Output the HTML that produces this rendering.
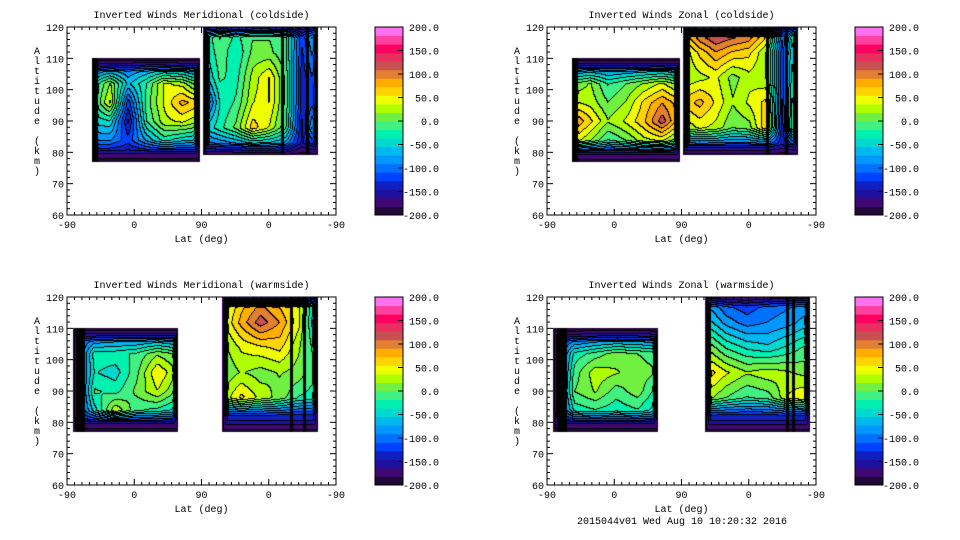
<!DOCTYPE html>
<html><head><meta charset="utf-8"><style>
html,body{margin:0;padding:0;background:#fff;width:960px;height:540px;overflow:hidden}
#wrap{position:relative;width:960px;height:540px}
canvas,svg{position:absolute;left:0;top:0}
text{font-family:"Liberation Mono",monospace;font-size:10px;fill:#000}
</style></head><body>
<div id="wrap">
<canvas id="cv" width="960" height="540"></canvas>
<svg id="sv" width="960" height="540"></svg>
</div>
<script>
// ---- data ----
const levelColors=['#200838','#400870','#2010a0','#1020c0','#0040ff','#0070ff','#0098ff','#00b8f0','#00d8d0','#00f0b0','#40f080','#70f040','#b0ff00','#f0ff00','#ffd400','#ffae00','#e08030','#c85050','#e83060','#ff0060','#ff40a0','#ff70f0'];
const cbTicks=[200,150,100,50,0,-50,-100,-150,-200];
const xTickLabels=['-90','0','90','0','-90'];
const yTicks=[60,70,80,90,100,110,120];
const altsA=[108,102,96,90,84,80];
const altsB=[120,112,104,96,88,82];
const titles=['Inverted Winds Meridional (coldside)','Inverted Winds Zonal (coldside)','Inverted Winds Meridional (warmside)','Inverted Winds Zonal (warmside)'];
// block extents [pos0,pos1,alt0,alt1]  (pos 0..360 = lat -90..90..-90)
const extA=[[33,178,77,110],[33,178,77,110],[8,149,77,110],[8,149,77,110]];
const extB=[[182,336,79,121],[182,336,79,121],[207,336,77,121],[211,352,77,121]];
const valsA=[
 [[-120,-110,-100,-90,-90,-100,-110],[-40,20,-60,-20,40,30,-20],[-30,40,-120,-10,40,80,60],[-50,-40,-150,-20,30,40,20],[-90,-90,-120,-70,-30,-50,-60],[-150,-150,-150,-150,-150,-150,-150]],
 [[-110,-100,-100,-100,-100,-100,-110],[0,20,-20,0,20,40,10],[40,30,0,20,60,90,60],[100,60,20,40,70,120,60],[50,20,-20,0,30,40,0],[-140,-140,-140,-140,-140,-140,-140]],
 [[-120,-110,-100,-100,-100,-110],[-150,-25,-25,-15,15,-5],[-140,-35,-45,-5,55,15],[-150,-15,-25,5,35,-5],[-140,-45,35,-15,-25,-45],[-150,-150,-150,-150,-150,-150]],
 [[-130,-120,-110,-110,-110,-120],[-150,-30,-10,10,0,-10],[-150,-10,30,20,10,0],[-150,0,20,-10,10,-30],[-150,-30,-20,-30,-20,-50],[-150,-150,-150,-150,-150,-150]]
];
const valsB=[
 [[-35,5,-15,-5,-5,-15,-120,-20],[-45,-5,-35,5,5,-15,-130,-60],[-65,-15,-25,25,55,-5,-140,-90],[-130,-35,-15,35,55,-5,-140,-100],[-55,-25,5,65,35,-15,-150,-20],[-110,-100,-90,-80,-80,-90,-150,-120]],
 [[80,130,150,140,130,80,-100,40],[20,60,90,70,60,20,-120,10],[20,30,40,10,30,20,-120,30],[60,80,50,20,40,60,-130,60],[20,40,30,0,10,70,-140,80],[-120,-120,-120,-120,-120,-120,-140,-120]],
 [[20,60,80,60,40,-60],[30,80,120,90,40,-80],[10,40,50,60,20,-40],[0,20,10,20,10,-20],[20,60,30,10,-20,-30],[-140,-140,-140,-140,-140,-140]],
 [[-80,-120,-130,-110,-100,-90],[-40,-80,-100,-90,-80,-60],[20,-20,-40,-50,-30,-10],[70,40,20,30,20,10],[30,0,-20,-10,40,60],[-140,-140,-140,-140,-140,-140]]
];
const stripePos=[[36,40,288,322],[36,40,295,320],[14,18,22,300,318],[16,20,24,322,330]];
// ---- layout ----
const PW=269,PH=188;
const origins=[[67,27],[547,27],[67,297],[547,297]];
function xs(pos){return pos/360*PW;}
function ys(alt){return PH-(alt-60)/60*PH;}
function posOf(px){return px/PW*360;}
function altOf(py){return 60+(PH-py)/PH*60;}
function sample(vals,alts,ext,pos,alt){
 const nc=vals[0].length;
 let c=(pos-ext[0])/(ext[1]-ext[0])*(nc-1);c=Math.max(0,Math.min(nc-1,c));
 let r;
 if(alt>=alts[0])r=0;else if(alt<=alts[alts.length-1])r=alts.length-1;
 else{for(let i=0;i<alts.length-1;i++){if(alt<=alts[i]&&alt>=alts[i+1]){r=i+(alts[i]-alt)/(alts[i]-alts[i+1]);break;}}}
 const c0=Math.floor(c),c1=Math.min(nc-1,c0+1),fc=c-c0,r0=Math.floor(r),r1=Math.min(alts.length-1,r0+1),fr=r-r0;
 return (vals[r0][c0]*(1-fc)+vals[r0][c1]*fc)*(1-fr)+(vals[r1][c0]*(1-fc)+vals[r1][c1]*fc)*fr;
}
function hex(h){return [parseInt(h.substr(1,2),16),parseInt(h.substr(3,2),16),parseInt(h.substr(5,2),16)];}
const rgb=levelColors.map(hex);
const ctx=document.getElementById('cv').getContext('2d');
for(let p=0;p<4;p++){
 const img=ctx.createImageData(PW,PH);
 const band=new Int16Array(PW*PH).fill(-1);
 const blocks=[[valsA[p],altsA,extA[p]],[valsB[p],altsB,extB[p]]];
 for(let py=0;py<PH;py++)for(let px=0;px<PW;px++){
  const pos=posOf(px+0.5),alt=altOf(py+0.5);
  for(const [vals,alts,ext] of blocks){
   if(pos>=ext[0]&&pos<=ext[1]&&alt>=ext[2]&&alt<=ext[3]){
    let v=sample(vals,alts,ext,pos,alt);
    const dx=Math.min(xs(pos)-xs(ext[0]),xs(ext[1])-xs(pos));
    const dy=Math.min(ys(ext[2])-ys(alt),ys(alt)-ys(ext[3]));
    const fx=dx<6?(6-dx)/6:0, fy=dy<13?(13-dy)/13:0;
    const f=Math.max(fx,fy);
    v=v-f*(v+195);
    let b=Math.floor((v+200)/400*levelColors.length);
    b=Math.max(0,Math.min(levelColors.length-1,b));
    band[py*PW+px]=b;
   }
  }
 }
 for(let py=0;py<PH;py++)for(let px=0;px<PW;px++){
  const i=py*PW+px,b=band[i];let col=[255,255,255];
  if(b>=0){
   col=rgb[b];
   const l=px>0?band[i-1]:-1,t=py>0?band[i-PW]:-1;
   if((l>=0&&l!==b)||(t>=0&&t!==b))col=[0,0,0];
   const pos=posOf(px+0.5);
   for(const s of stripePos[p]){if(Math.abs(xs(pos)-xs(s))<1.6)col=[0,0,0];}
  }
  img.data[i*4]=col[0];img.data[i*4+1]=col[1];img.data[i*4+2]=col[2];img.data[i*4+3]=255;
 }
 ctx.putImageData(img,origins[p][0],origins[p][1]);
}
// ---- axes ----
const svg=document.getElementById('sv');const NS='http://www.w3.org/2000/svg';
function mk(tag,attrs,parent,txt){const e=document.createElementNS(NS,tag);for(const k in attrs)e.setAttribute(k,attrs[k]);if(txt!==undefined)e.textContent=txt;parent.appendChild(e);return e;}
const names=['meridional-coldside','zonal-coldside','meridional-warmside','zonal-warmside'];
for(let p=0;p<4;p++){
 const [ox,oy]=origins[p];
 const g=mk('g',{},svg);
 
 
 const fr=mk('rect',{x:ox,y:oy,width:PW,height:PH,fill:'none',stroke:'#000','stroke-width':1},g);
 
 
 const t=mk('text',{x:ox+PW/2,y:oy-9,'text-anchor':'middle'},g,titles[p]);
 
 
 for(let a=60;a<=120;a+=2){
  const y=oy+ys(a),L=(a%10===0)?6:3;
  mk('line',{x1:ox,x2:ox+L,y1:y,y2:y,stroke:'#000'},g);
  mk('line',{x1:ox+PW,x2:ox+PW-L,y1:y,y2:y,stroke:'#000'},g);
 }
 yTicks.forEach(a=>{const tl=mk('text',{x:ox-3,y:oy+ys(a)+4,'text-anchor':'end'},g,String(a));
  
  });
 for(let q=0;q<=360;q+=10){
  const x=ox+xs(q),L=(q%90===0)?6:3;
  mk('line',{x1:x,x2:x,y1:oy+PH,y2:oy+PH-L,stroke:'#000'},g);
  mk('line',{x1:x,x2:x,y1:oy,y2:oy+L,stroke:'#000'},g);
 }
 xTickLabels.forEach((s,i)=>{const tl=mk('text',{x:ox+xs(i*90),y:oy+PH+13,'text-anchor':'middle'},g,s);
  
  });
 const xt=mk('text',{x:ox+PW/2,y:oy+PH+27,'text-anchor':'middle'},g,'Lat (deg)');
 
 
 const yl='Altitude (km)';
 const yg=mk('g',{},g);
 
 
 for(let i=0;i<yl.length;i++)mk('text',{x:ox-30,y:oy+27+i*10,'text-anchor':'middle'},yg,yl[i]);
 const cb=mk('g',{},g);
 
 
 const bx=ox+308,bw=28,n=levelColors.length,bh=PH/n;
 levelColors.forEach((c,i)=>{mk('rect',{x:bx,y:oy+PH-(i+1)*bh,width:bw,height:bh+0.5,fill:c},cb);});
 mk('rect',{x:bx,y:oy,width:bw,height:PH,fill:'none',stroke:'#000'},cb);
 cbTicks.forEach(v=>{const y=oy+PH-(v+200)/400*PH;
  mk('line',{x1:bx+bw-5,x2:bx+bw,y1:y,y2:y,stroke:'#000'},cb);
  const tl=mk('text',{x:ox+372,y:y+4,'text-anchor':'end'},cb,v.toFixed(1));
  
  });
}
const ft=mk('text',{x:682,y:524,'text-anchor':'middle'},svg,'2015044v01 Wed Aug 10 10:20:32 2016');


</script>
</body></html>
